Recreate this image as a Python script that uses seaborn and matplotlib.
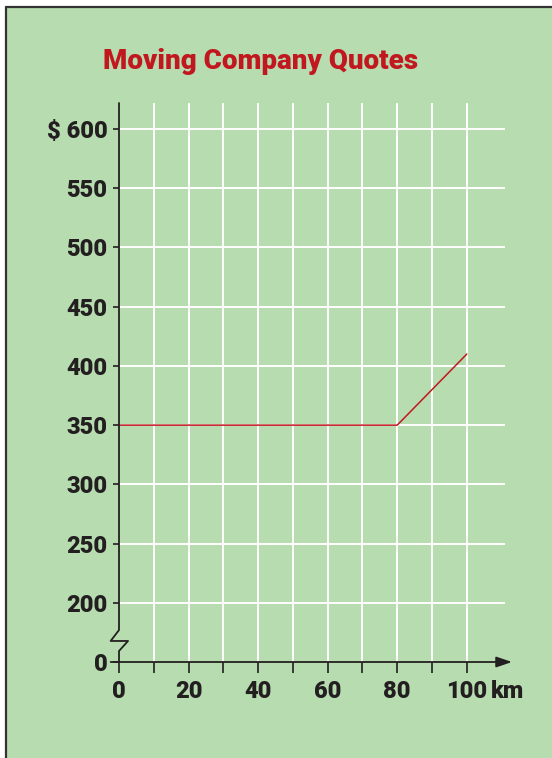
import numpy as np
import matplotlib
matplotlib.use("Agg")
import matplotlib.pyplot as plt
from matplotlib.lines import Line2D
from matplotlib.patches import Rectangle
from matplotlib import font_manager
import seaborn as sns

# Data
distance_km = [0, 80, 100]
quote_dollars = [350, 350, 410]
y_ticks = [0, 200, 250, 300, 350, 400, 450, 500, 550, 600]
y_tick_labels = ["0", "200", "250", "300", "350", "400", "450", "500", "550", "$ 600"]
x_major = [0, 20, 40, 60, 80, 100]
x_minor = [10, 30, 50, 70, 90]
x_tick_labels = ["0", "20", "40", "60", "80", "100"]

BG = "#b6dcb0"
INK = "#231f20"
RED = "#c1171f"

FONT = ["Roboto", "Liberation Sans", "DejaVu Sans"]
weights = {f.weight for f in font_manager.fontManager.ttflist if f.name == "Roboto"}
WEIGHT = "black" if 900 in weights else "bold"

sns.set_theme(style="white")
plt.rcParams["font.family"] = FONT


def fwd(v):
    # squeeze 0-200 into a short stretch below the break
    v = np.asarray(v, dtype=float)
    return np.where(v >= 200, v, 150 + v / 4)


def inv(y):
    y = np.asarray(y, dtype=float)
    return np.where(y >= 200, y, (y - 150) * 4)


fig = plt.figure(figsize=(5.52, 7.58), dpi=100, facecolor="white",
                 edgecolor="white", linewidth=0)
fig.add_artist(Rectangle((6 / 552, 0), 546 / 552, 751 / 758, transform=fig.transFigure,
                         facecolor=BG, edgecolor="none", lw=0, zorder=0))
fig.add_artist(Line2D([6 / 552, 1], [751 / 758, 751 / 758], transform=fig.transFigure,
                      color="#333333", lw=1.6))
fig.add_artist(Line2D([6 / 552, 6 / 552], [0, 751 / 758], transform=fig.transFigure,
                      color="#333333", lw=1.6))

ax = fig.add_axes([119 / 552, 96 / 758, 393 / 552, 559 / 758])
ax.set_facecolor("none")
for s in ax.spines.values():
    s.set_visible(False)

ax.set_yscale("function", functions=(fwd, inv))
ax.set_xlim(0, 113)
ax.set_ylim(0, 622)

# grid
ax.vlines(x_major[1:] + x_minor, 0, 622, color="white", lw=1.4, zorder=1)
ax.hlines(y_ticks[1:], 0, 111, color="white", lw=1.4, zorder=1)

sns.lineplot(x=distance_km, y=quote_dollars, ax=ax, color=RED, lw=1.1, zorder=3)

# y axis with break
bt = matplotlib.transforms.blended_transform_factory(ax.transData, ax.transAxes)
ax.plot([0, 0, -2.4, 2.6, 0, 0], [1, 0.0572, 0.0376, 0.0376, 0.0197, 0],
        transform=bt, color=INK, lw=1.3, clip_on=False, zorder=4)

# x axis with arrow
ax.annotate("", xy=(113, 0), xytext=(-2.4, 0), xycoords=bt, textcoords=bt,
            arrowprops=dict(arrowstyle="-|>,head_length=0.47,head_width=0.16",
                            mutation_scale=20, color=INK, lw=1.3,
                            shrinkA=0, shrinkB=0), zorder=4)

ax.set_yticks(y_ticks)
ax.set_yticklabels(y_tick_labels)
ax.set_xticks(x_major)
ax.set_xticklabels(x_tick_labels)
ax.set_xticks(x_minor, minor=True)
ax.tick_params(axis="y", direction="out", length=4.3, width=1.2, color=INK,
               pad=4, left=True, labelsize=17, labelcolor=INK)
ax.tick_params(axis="x", which="both", direction="out", length=8, width=1.2,
               color=INK, pad=5, bottom=True, labelsize=17, labelcolor=INK)
for lab in ax.get_xticklabels() + ax.get_yticklabels():
    lab.set_fontweight(WEIGHT)
ax.set_xlabel("")
ax.set_ylabel("")

ax.text(106.8, -0.052, "km", transform=bt, ha="left", va="center",
        fontsize=17, fontweight=WEIGHT, color=INK)

fig.text(260.5 / 552, 689 / 758, "Moving Company Quotes", ha="center",
         va="baseline", fontsize=20, fontweight=WEIGHT, color=RED)

fig.savefig("out.png", dpi=100, facecolor=fig.get_facecolor())
